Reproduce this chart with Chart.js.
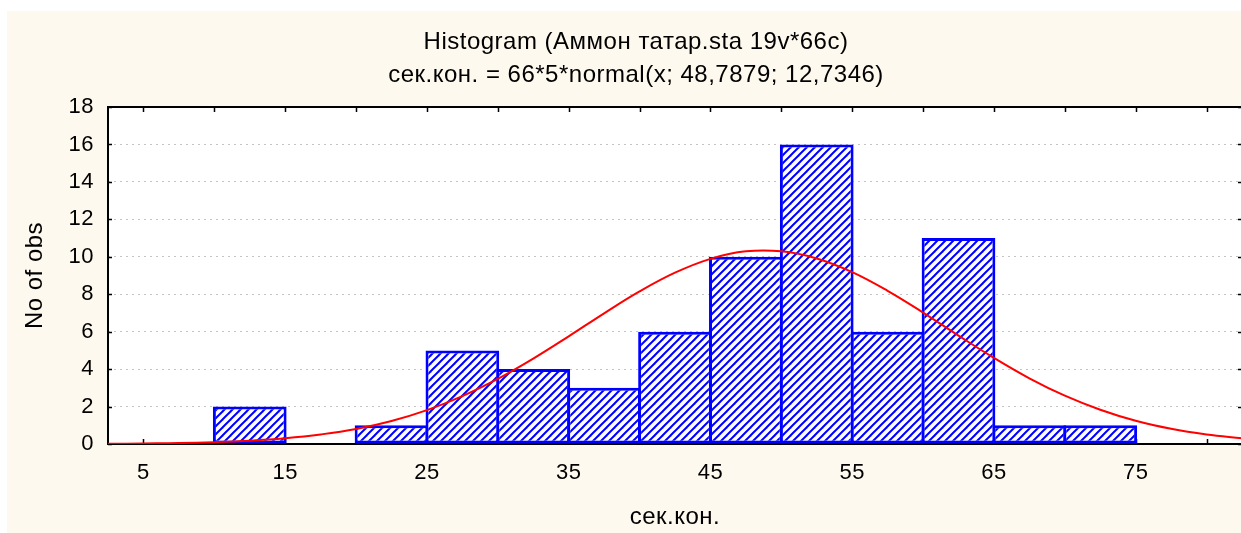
<!DOCTYPE html>
<html lang="ru">
<head>
  <meta charset="UTF-8" />
  <title>Histogram (Аммон татар.sta 19v*66c)</title>
  <script src="https://cdn.jsdelivr.net/npm/chart.js"></script>
  <style>
    html, body { margin: 0; padding: 0; background: #fff; overflow: hidden; }
    .frame {
      position: absolute; left: 7px; top: 11px;
      width: 1258px; height: 522px;
      background: #fef9ee;
    }
  </style>
</head>
<body>
  <div class="frame">
    <canvas id="hist" width="1258" height="522"></canvas>
  </div>

  <script>
    // гистограмма: центры интервалов (шаг 5) и число наблюдений
    const binCenters = [12.5, 17.5, 22.5, 27.5, 32.5, 37.5, 42.5, 47.5, 52.5, 57.5, 62.5, 67.5, 72.5];
    const binCounts  = [2, 0, 1, 5, 4, 3, 6, 10, 16, 6, 11, 1, 1];

    // кривая нормального распределения
    const curveX = [2.5, 5, 7.5, 10, 12.5, 15, 17.5, 20, 22.5, 25, 27.5, 30, 32.5, 35, 37.5, 40, 42.5,
                    45, 47.5, 50, 52.5, 55, 57.5, 60, 62.5, 65, 67.5, 70, 72.5, 75, 77.5, 80, 82.5];
    const curveY = [0.01, 0.03, 0.05, 0.10, 0.18, 0.31, 0.51, 0.80, 1.23, 1.81, 2.56, 3.48, 4.56, 5.75, 6.98, 8.15, 9.15,
                    9.89, 10.29, 10.29, 9.91, 9.18, 8.18, 7.02, 5.79, 4.60, 3.51, 2.58, 1.83, 1.24, 0.81, 0.51, 0.31];

    // оси
    const xLabelValues = [5, 15, 25, 35, 45, 55, 65, 75];
    const xTickMarks = [5, 10, 15, 20, 25, 30, 35, 40, 45, 50, 55, 60, 65, 70, 75, 80];
    const yTicks = [0, 2, 4, 6, 8, 10, 12, 14, 16, 18];

    const FONT = 'Liberation Sans, Arial, sans-serif';

    // штриховка столбцов
    function makeHatch() {
      const pc = document.createElement('canvas');
      pc.width = 8; pc.height = 8;
      const g = pc.getContext('2d');
      g.fillStyle = '#fff';
      g.fillRect(0, 0, 8, 8);
      g.strokeStyle = '#0000ff';
      g.lineWidth = 2;
      [-8, 0, 8].forEach(o => {
        g.beginPath();
        g.moveTo(o - 1, 9);
        g.lineTo(o + 9, -1);
        g.stroke();
      });
      return g.createPattern(pc, 'repeat');
    }

    // шрифт в оригинале чуть шире
    const spacingPlugin = {
      id: 'spacing',
      beforeLayout(chart) { chart.ctx.letterSpacing = '0.5px'; },
      beforeDraw(chart) { chart.ctx.letterSpacing = '0.5px'; }
    };

    // рамка графика и внутренние засечки
    const framePlugin = {
      id: 'frame',
      beforeDraw(chart) {
        const { ctx, chartArea: a } = chart;
        ctx.save();
        ctx.fillStyle = '#fff';
        ctx.fillRect(a.left, a.top, a.right - a.left, a.bottom - a.top);
        ctx.restore();
      },
      beforeDatasetsDraw(chart) {
        const { ctx, chartArea: a, scales } = chart;
        ctx.save();
        ctx.strokeStyle = '#000';
        ctx.lineWidth = 2;
        ctx.strokeRect(a.left, a.top, a.right - a.left, a.bottom - a.top);
        ctx.lineWidth = 1.5;
        ctx.beginPath();
        xTickMarks.forEach(v => {
          const px = Math.round(scales.x.getPixelForValue(v)) + 0.5;
          ctx.moveTo(px, a.bottom); ctx.lineTo(px, a.bottom - 5);
          ctx.moveTo(px, a.top); ctx.lineTo(px, a.top + 5);
        });
        yTicks.forEach(v => {
          const py = Math.round(scales.y.getPixelForValue(v)) + 0.5;
          ctx.moveTo(a.left, py); ctx.lineTo(a.left + 4, py);
          ctx.moveTo(a.right, py); ctx.lineTo(a.right - 4, py);
        });
        ctx.stroke();
        ctx.restore();
      }
    };

    const ctx = document.getElementById('hist').getContext('2d');
    const chart = new Chart(ctx, {
      type: 'bar',
      data: {
        datasets: [
          {
            type: 'line',
            label: 'normal',
            data: curveX.map((x, i) => ({ x: x, y: curveY[i] })),
            borderColor: '#ff0000',
            borderWidth: 2,
            pointRadius: 0,
            tension: 0.4,
            fill: false,
            order: 0
          },
          {
            type: 'bar',
            label: 'сек.кон.',
            data: binCenters.map((x, i) => ({ x: x, y: binCounts[i] || null })),
            backgroundColor: makeHatch(),
            borderColor: '#0000ff',
            borderWidth: 3,
            borderSkipped: false,
            barPercentage: 1.04,
            categoryPercentage: 1,
            order: 1
          }
        ]
      },
      options: {
        responsive: false,
        devicePixelRatio: 1,
        animation: false,
        layout: { padding: 0 },
        plugins: {
          legend: { display: false },
          tooltip: { enabled: false },
          title: {
            display: true,
            text: ['Histogram (Аммон татар.sta 19v*66c)', 'сек.кон. = 66*5*normal(x; 48,7879; 12,7346)'],
            color: '#000',
            font: { family: FONT, size: 24, weight: 'normal', lineHeight: 1.375 },
            padding: { top: 14.5, bottom: 15.5 }
          }
        },
        scales: {
          x: {
            type: 'linear',
            min: 2.5,
            max: 82.5,
            offset: false,
            afterBuildTicks: s => { s.ticks = xLabelValues.map(v => ({ value: v })); },
            afterFit: s => { s.height = 89; },
            ticks: {
              color: '#000',
              font: { family: FONT, size: 22 },
              padding: 16,
              maxRotation: 0,
              autoSkip: false
            },
            grid: { display: false, drawTicks: false, offset: false },
            border: { display: false },
            title: {
              display: true,
              text: 'сек.кон.',
              color: '#000',
              font: { family: FONT, size: 24 },
              padding: { top: 0, bottom: 1 }
            }
          },
          y: {
            min: 0,
            max: 18,
            afterBuildTicks: s => { s.ticks = yTicks.map(v => ({ value: v })); },
            afterFit: s => { s.width = 101; },
            ticks: {
              color: '#000',
              font: { family: FONT, size: 22 },
              padding: 14
            },
            grid: {
              drawTicks: false,
              lineWidth: 1,
              color: c => (c.tick && (c.tick.value === 0 || c.tick.value === 18)) ? 'rgba(0,0,0,0)' : '#c4c4c4'
            },
            border: { display: false, dash: [2, 4] },
            title: {
              display: true,
              text: 'No of obs',
              color: '#000',
              font: { family: FONT, size: 24 },
              padding: { top: 14, bottom: 0 }
            }
          },
          y2: {
            position: 'right',
            display: true,
            afterFit: s => { s.width = 23; },
            ticks: { display: false },
            grid: { display: false, drawTicks: false },
            border: { display: false }
          }
        }
      },
      plugins: [spacingPlugin, framePlugin]
    });
  </script>
</body>
</html>
